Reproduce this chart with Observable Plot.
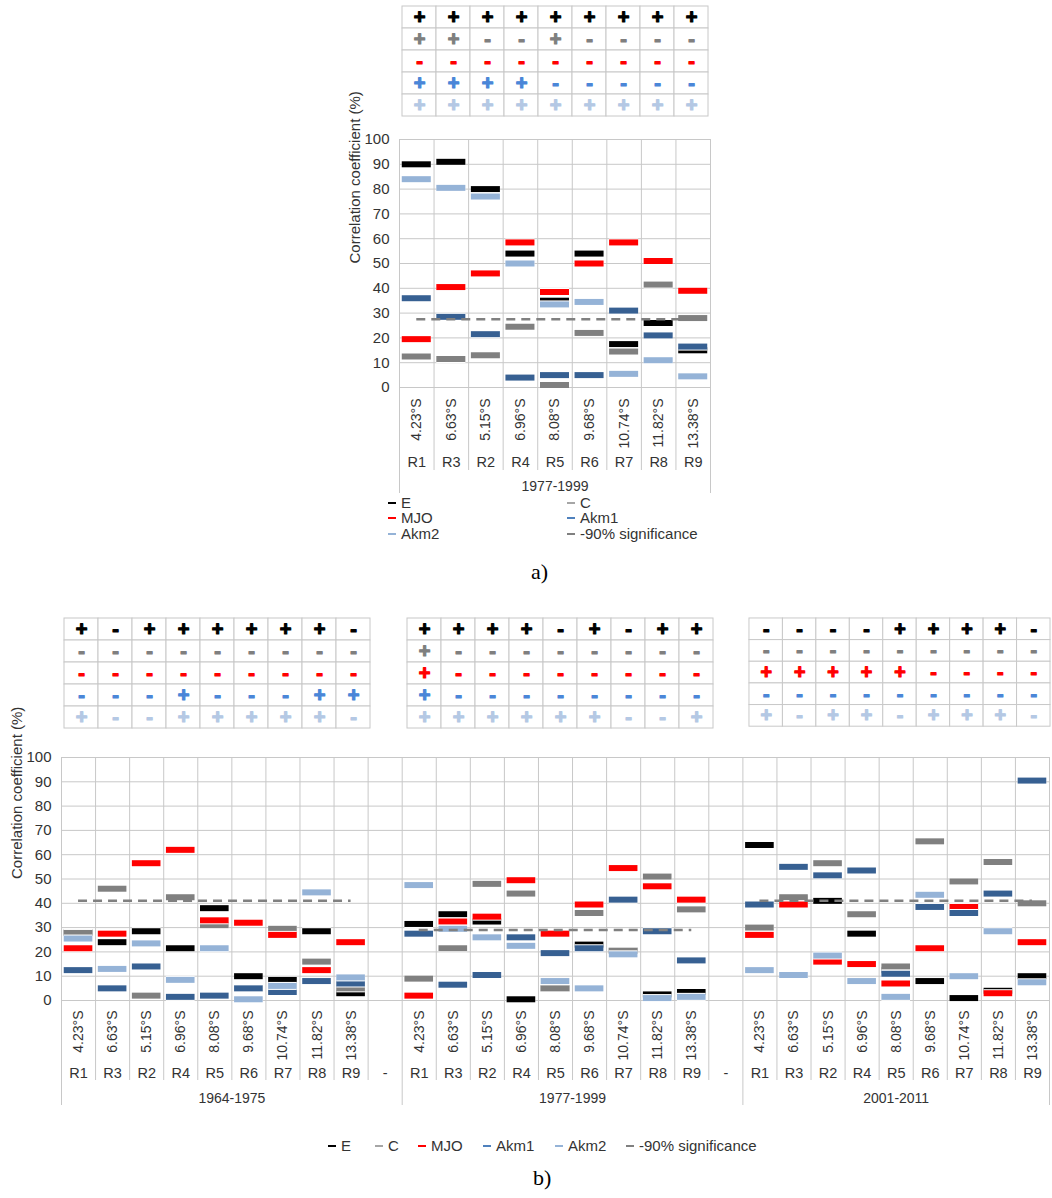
<!DOCTYPE html>
<html><head><meta charset="utf-8">
<script src="https://cdn.jsdelivr.net/npm/d3@7"></script>
<script src="https://cdn.jsdelivr.net/npm/@observablehq/plot@0.6"></script>
<style>
html,body{margin:0;padding:0;background:#fff;}
body{width:1052px;height:1198px;position:relative;overflow:hidden;font-family:"Liberation Sans",Arial,sans-serif;color:#333;}
.abs{position:absolute;}
.abs svg{overflow:visible;display:block;}
.leg{position:absolute;font-size:15px;line-height:16px;white-space:nowrap;color:#333;}
.leg i{display:inline-block;width:8px;height:2.5px;vertical-align:middle;margin-right:5px;position:relative;top:-1px;}
.cap{position:absolute;font-family:"Liberation Serif","DejaVu Serif",serif;font-size:22px;line-height:22px;color:#000;}
</style></head><body>
<script>
// ---------- shared categories ----------
const regions = ["R1","R3","R2","R4","R5","R6","R7","R8","R9"];
const latitudes = ["4.23°S","6.63°S","5.15°S","6.96°S","8.08°S","9.68°S","10.74°S","11.82°S","13.38°S"];
const seriesNames = ["E","C","MJO","Akm1","Akm2"];
const yTicks = [0,10,20,30,40,50,60,70,80,90,100];
const legendLabels = ["E","C","MJO","Akm1","Akm2","-90% significance"];
const barColors = {E:"#000000", C:"#808080", MJO:"#ff0000", Akm1:"#376092", Akm2:"#95b3d7"};
const signColors = {E:"#000000", C:"#7f7f7f", MJO:"#ff0000", Akm1:"#4a86d8", Akm2:"#b4c8e4"};
const legendColors = ["#000000","#a6a6a6","#ff0000","#4f81bd","#95b3d7","#808080"];

// ---------- panel a) 1977-1999 ----------
const a_period = "1977-1999";
const a_E    = [90, 91, 80, 54, 35, 54, 17.5, 26, 15];
const a_C    = [12.5, 11.5, 13, 24.5, 1, 22, 14.5, 41.5, 28];
const a_MJO  = [19.5, 40.5, 46, 58.5, 38.5, 50, 58.5, 51, 39];
const a_Akm1 = [36, 28.5, 21.5, 4, 5, 5, 31, 21, 16.5];
const a_Akm2 = [84, 80.5, 77, 50, 33.5, 34.5, 5.5, 11, 4.5];
const a_sig  = 27.5;
const a_signE    = ["+","+","+","+","+","+","+","+","+"];
const a_signC    = ["+","+","-","-","+","-","-","-","-"];
const a_signMJO  = ["-","-","-","-","-","-","-","-","-"];
const a_signAkm1 = ["+","+","+","+","-","-","-","-","-"];
const a_signAkm2 = ["+","+","+","+","+","+","+","+","+"];

// ---------- panel b) 1964-1975 ----------
const b1_period = "1964-1975";
const b1_E    = [28, 24, 28.5, 21.5, 38, 10, 8.5, 28.5, 3];
const b1_C    = [27.8, 46, 2, 42.5, 31, 5, 29.5, 16, 5];
const b1_MJO  = [21.5, 27.5, 56.5, 62, 33, 32, 27, 12.5, 24];
const b1_Akm1 = [12.5, 5, 14, 1.5, 2, 5, 3.5, 8, 7];
const b1_Akm2 = [25.5, 13, 23.5, 8.5, 21.5, 0.5, 6, 44.5, 9.5];
const b1_sig  = 41;
const b1_signE    = ["+","-","+","+","+","+","+","+","-"];
const b1_signC    = ["-","-","-","-","-","-","-","-","-"];
const b1_signMJO  = ["-","-","-","-","-","-","-","-","-"];
const b1_signAkm1 = ["-","-","-","+","-","-","-","+","+"];
const b1_signAkm2 = ["+","-","-","+","+","+","+","+","-"];

// ---------- panel b) 1977-1999 ----------
const b2_period = "1977-1999";
const b2_E    = [31.5, 35.5, 32.5, 0.5, 5, 23, 20.5, 2.5, 3.5];
const b2_C    = [9, 21.5, 48, 44, 5, 36, 20.5, 51, 37.5];
const b2_MJO  = [2, 32.5, 34.5, 49.5, 27.5, 39.5, 54.5, 47, 41.5];
const b2_Akm1 = [27.5, 6.5, 10.5, 26, 19.5, 21.5, 41.5, 28.5, 16.5];
const b2_Akm2 = [47.5, 29.5, 26, 22.5, 8, 5, 19, 1, 1.5];
const b2_sig  = 29;
const b2_signE    = ["+","+","+","+","-","+","-","+","+"];
const b2_signC    = ["+","-","-","-","-","-","-","-","-"];
const b2_signMJO  = ["+","-","-","-","-","-","-","-","-"];
const b2_signAkm1 = ["+","-","-","-","-","-","-","-","-"];
const b2_signAkm2 = ["+","+","+","+","+","+","-","-","+"];

// ---------- panel b) 2001-2011 ----------
const b3_period = "2001-2011";
const b3_E    = [64, 42, 41, 27.5, 12.5, 8, 1, 4, 10];
const b3_C    = [30, 42.5, 56.5, 35.5, 14, 65.5, 49, 57, 40];
const b3_MJO  = [27, 39.5, 16, 15, 7, 21.5, 38.5, 3, 24];
const b3_Akm1 = [39.5, 55, 51.5, 53.5, 11, 38.5, 36, 44, 90.5];
const b3_Akm2 = [12.5, 10.5, 18.5, 8, 1.5, 43.5, 10, 28.5, 7.5];
const b3_sig  = 41;
const b3_signE    = ["-","-","-","-","+","+","+","+","-"];
const b3_signC    = ["-","-","-","-","-","-","-","-","-"];
const b3_signMJO  = ["+","+","+","+","+","-","-","-","-"];
const b3_signAkm1 = ["-","-","-","-","-","-","-","-","-"];
const b3_signAkm2 = ["+","-","+","+","-","+","+","+","-"];

// ---------- build ----------
const groupA  = {period: a_period,  sig: a_sig,  values: {E:a_E, C:a_C, MJO:a_MJO, Akm1:a_Akm1, Akm2:a_Akm2}};
const groupB1 = {period: b1_period, sig: b1_sig, values: {E:b1_E, C:b1_C, MJO:b1_MJO, Akm1:b1_Akm1, Akm2:b1_Akm2}};
const groupB2 = {period: b2_period, sig: b2_sig, values: {E:b2_E, C:b2_C, MJO:b2_MJO, Akm1:b2_Akm1, Akm2:b2_Akm2}};
const groupB3 = {period: b3_period, sig: b3_sig, values: {E:b3_E, C:b3_C, MJO:b3_MJO, Akm1:b3_Akm1, Akm2:b3_Akm2}};

const GRID = "#c8c8c8";
const TXT = "#333";

function place(node, left, top) {
  const d = document.createElement("div");
  d.className = "abs";
  d.style.left = left + "px";
  d.style.top = top + "px";
  d.appendChild(node);
  document.body.appendChild(d);
}

function buildChart(groups, o) {
  const cols = [];
  const starts = [];
  groups.forEach((g, gi) => {
    starts.push(cols.length);
    regions.forEach((r, i) => cols.push({idx: cols.length, region: r, lat: latitudes[i]}));
    if (gi < groups.length - 1) cols.push({idx: cols.length, region: "-", lat: ""});
  });
  const n = cols.length;
  const ends = groups.map((g, gi) => gi < groups.length - 1 ? starts[gi + 1] : n);
  const plotH = o.height - o.marginTop - o.marginBottom;
  const ppu = plotH / 100;
  const bars = [];
  groups.forEach((g, gi) => seriesNames.forEach(s => g.values[s].forEach((v, i) => bars.push({x: starts[gi] + i, v, s}))));
  const sigData = groups.map((g, gi) => ({start: starts[gi], v: g.sig}));
  const outerX = [...new Set([...starts, n])];
  const innerX = d3.range(n + 1).filter(x => !outerX.includes(x));
  const groupLabels = groups.map((g, gi) => ({c: (starts[gi] + ends[gi]) / 2, t: g.period}));
  const inset = 0.08;
  const marks = [
    Plot.ruleY(yTicks, {y: d => d, stroke: GRID}),
    Plot.ruleX(d3.range(n + 1), {x: d => d, y1: 0, y2: 100, stroke: GRID}),
    Plot.ruleX(innerX, {x: d => d, y1: 0, y2: -o.innerLen / ppu, stroke: GRID}),
    Plot.ruleX(outerX, {x: d => d, y1: 0, y2: -o.outerLen / ppu, stroke: GRID}),
  ];
  seriesNames.forEach(s => {
    const d = bars.filter(b => b.s === s);
    marks.push(Plot.ruleY(d, {x1: b => b.x + inset, x2: b => b.x + 1 - inset, y: "v", stroke: "#ffffff", strokeWidth: 8}));
    marks.push(Plot.ruleY(d, {x1: b => b.x + inset, x2: b => b.x + 1 - inset, y: "v", stroke: barColors[s], strokeWidth: 6}));
  });
  marks.push(Plot.ruleY(sigData, {x1: d => d.start + 0.5, x2: d => d.start + 8.5, y: "v", stroke: "#808080", strokeWidth: 2.5, strokeDasharray: "9,6"}));
  marks.push(Plot.text(yTicks, {x: 0, y: d => d, text: d => String(d), textAnchor: "end", dx: -10, fontSize: 15, fill: TXT}));
  marks.push(Plot.text(["Correlation coefficient (%)"], {frameAnchor: "left", text: d => d, rotate: -90, dx: -o.titleDx, fontSize: 15, fill: TXT}));
  marks.push(Plot.text(cols.filter(c => c.lat), {x: c => c.idx + 0.5, y: 0, text: "lat", rotate: -90, textAnchor: "end", dy: o.latDy, fontSize: 14, fill: TXT}));
  marks.push(Plot.text(cols, {x: c => c.idx + 0.5, y: 0, text: "region", dy: o.regDy, fontSize: 14.5, fill: TXT}));
  marks.push(Plot.text(groupLabels, {x: "c", y: 0, text: "t", dy: o.grpDy, fontSize: 14, fill: TXT}));
  const svg = Plot.plot({
    width: o.width, height: o.height,
    marginLeft: o.marginLeft, marginRight: o.marginRight, marginTop: o.marginTop, marginBottom: o.marginBottom,
    style: {fontFamily: '"Liberation Sans", Arial, sans-serif', background: "transparent", overflow: "visible"},
    x: {type: "linear", domain: [0, n], axis: null},
    y: {type: "linear", domain: [0, 100], axis: null},
    marks
  });
  place(svg, o.left, o.top);
}

function signTable(signs, left, top, width, height) {
  const cells = [];
  seriesNames.forEach(s => signs[s].forEach((v, i) => cells.push({i, s, v})));
  const svg = Plot.plot({
    width: width + 2, height: height + 2, margin: 1,
    style: {fontFamily: '"Liberation Sans", Arial, sans-serif', background: "transparent", overflow: "visible"},
    x: {type: "band", domain: d3.range(9), axis: null, padding: 0},
    y: {type: "band", domain: seriesNames, axis: null, padding: 0},
    color: {type: "identity"},
    marks: [
      Plot.cell(cells, {x: "i", y: "s", fill: "#ffffff", stroke: GRID}),
      Plot.text(cells, {x: "i", y: "s", text: "v", fill: d => signColors[d.s], stroke: d => signColors[d.s], strokeWidth: 1.2, fontWeight: "bold", fontSize: 20})
    ]
  });
  place(svg, left - 1, top - 1);
}

function legend(items) {
  items.forEach(([k, left, top]) => {
    const d = document.createElement("div");
    d.className = "leg";
    d.style.left = left + "px";
    d.style.top = top + "px";
    const i = document.createElement("i");
    i.style.background = legendColors[k];
    d.appendChild(i);
    d.appendChild(document.createTextNode(legendLabels[k]));
    document.body.appendChild(d);
  });
}

function caption(t, left, top) {
  const d = document.createElement("div");
  d.className = "cap";
  d.style.left = left + "px";
  d.style.top = top + "px";
  d.textContent = t;
  document.body.appendChild(d);
}

// panel a
signTable({E:a_signE, C:a_signC, MJO:a_signMJO, Akm1:a_signAkm1, Akm2:a_signAkm2}, 399, 4, 311, 113);
buildChart([groupA], {left: 0, top: 120, width: 740, height: 380, marginLeft: 399, marginRight: 30, marginTop: 19, marginBottom: 113,
  innerLen: 83, outerLen: 106, latDy: 11, regDy: 75, grpDy: 99, titleDx: 44});
legend([[0, 388, 495], [1, 567, 495], [2, 388, 510], [3, 567, 510], [4, 388, 526], [5, 567, 526]]);
caption("a)", 531, 561);

// panel b
signTable({E:b1_signE, C:b1_signC, MJO:b1_signMJO, Akm1:b1_signAkm1, Akm2:b1_signAkm2}, 62, 617, 309, 112);
signTable({E:b2_signE, C:b2_signC, MJO:b2_signMJO, Akm1:b2_signAkm1, Akm2:b2_signAkm2}, 405, 617, 309, 112);
signTable({E:b3_signE, C:b3_signC, MJO:b3_signMJO, Akm1:b3_signAkm1, Akm2:b3_signAkm2}, 747, 617, 309, 112);
buildChart([groupB1, groupB2, groupB3], {left: 0, top: 740, width: 1052, height: 380, marginLeft: 61, marginRight: 3, marginTop: 17, marginBottom: 120,
  innerLen: 80, outerLen: 105, latDy: 10, regDy: 73, grpDy: 98, titleDx: 44});
legend([[0, 328, 1138], [1, 375, 1138], [2, 418, 1138], [3, 483, 1138], [4, 555, 1138], [5, 626, 1138]]);
caption("b)", 533, 1167);
</script>
</body></html>
